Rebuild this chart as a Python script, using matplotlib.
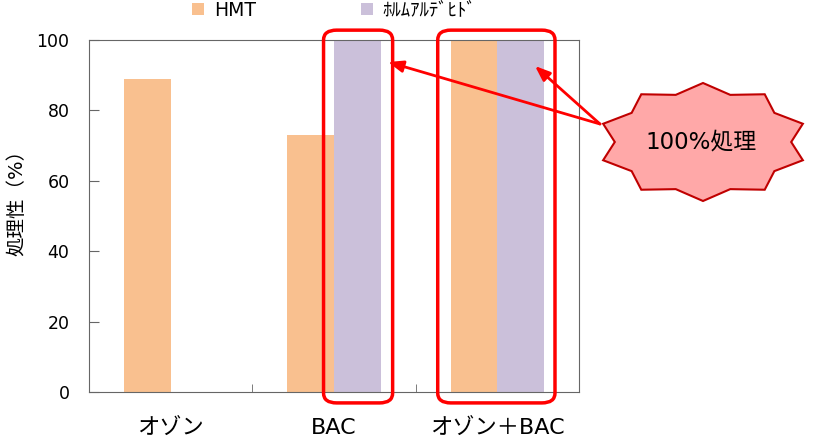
import numpy as np
import matplotlib
matplotlib.use('Agg')
import matplotlib.pyplot as plt
from matplotlib.patches import FancyBboxPatch, Polygon

plt.rcParams['font.family'] = ['DejaVu Sans', 'Noto Sans CJK JP']

# data
categories = ['オゾン', 'BAC', 'オゾン＋BAC']
series_names = ['HMT', 'ﾎﾙﾑｱﾙﾃﾞﾋﾄﾞ']
hmt = [89, 73, 100]
formaldehyde = [0, 100, 100]
y_ticks = [0, 20, 40, 60, 80, 100]
callout_text = '100%処理'

W, H = 813, 444
fig = plt.figure(figsize=(W / 100, H / 100), dpi=100)
ax = fig.add_axes([89 / W, 1 - 392 / H, (579 - 89) / W, (392 - 40) / H])

x = np.arange(len(categories))
bw = 0.286
ax.bar(x - bw / 2, hmt, bw, color='#F9C08F', label=series_names[0])
ax.bar(x + bw / 2, formaldehyde, bw, color='#CBC0DA', label=series_names[1])

ax.set_xlim(-0.5, 2.5)
ax.set_ylim(0, 100)
ax.set_yticks(y_ticks)
ax.tick_params(axis='y', direction='in', length=7, pad=14, labelsize=12.5, color='#666666')
ax.set_xticks(x)
ax.set_xticklabels(categories, fontsize=16)
ax.tick_params(axis='x', length=0, pad=19)
ax.set_xticks([0.5, 1.5], minor=True)
ax.tick_params(axis='x', which='minor', direction='in', length=6, color='#666666')
for s in ax.spines.values():
    s.set_color('#666666')
ax.set_ylabel('処理性（%）', fontsize=14)
ax.yaxis.set_label_coords(-0.128, 0.55)

ax.legend(loc='lower center', bbox_to_anchor=(0.5, 1.01), ncol=2, frameon=False,
          fontsize=13.5, handlelength=0.65, handleheight=0.65, handletextpad=0.5,
          columnspacing=5.6)

# red highlight boxes around the 100% bars
for x0, x1 in [(0.936, 1.359), (1.635, 2.353)]:
    box = FancyBboxPatch((x0, -3.1), x1 - x0, 105.9,
                         boxstyle='round,pad=0,rounding_size=0.08',
                         mutation_aspect=35,
                         fill=False, edgecolor='#FF0000', lw=2.5, clip_on=False,
                         zorder=5)
    ax.add_patch(box)

# callout star (10 points)
cx, cy, rx, ry = 703, 142, 105, 59
ang = np.deg2rad(90 + np.arange(20) * 18)
rr = np.where(np.arange(20) % 2 == 0, 1.0, 0.84)
px = cx + rx * rr * np.cos(ang)
py = cy - ry * rr * np.sin(ang)
star = Polygon(np.column_stack([px / W, 1 - py / H]), closed=True,
               transform=fig.transFigure, facecolor='#FFA8A8',
               edgecolor='#C00000', lw=1.5, zorder=4)
fig.patches.append(star)
fig.text(cx / W - 0.002, 1 - cy / H, callout_text, fontsize=16.5, ha='center', va='center', zorder=6)

for tx, ty in [(388, 62), (535, 66)]:
    fig.add_artist(plt.Annotation('', xy=(tx / W, 1 - ty / H), xycoords='figure fraction',
                                  xytext=(600 / W, 1 - 124 / H), textcoords='figure fraction',
                                  arrowprops=dict(arrowstyle='-|>,head_length=0.9,head_width=0.35',
                                                  color='#FF0000', lw=2, shrinkA=0, shrinkB=0)))

fig.savefig('out.png', dpi=100)
